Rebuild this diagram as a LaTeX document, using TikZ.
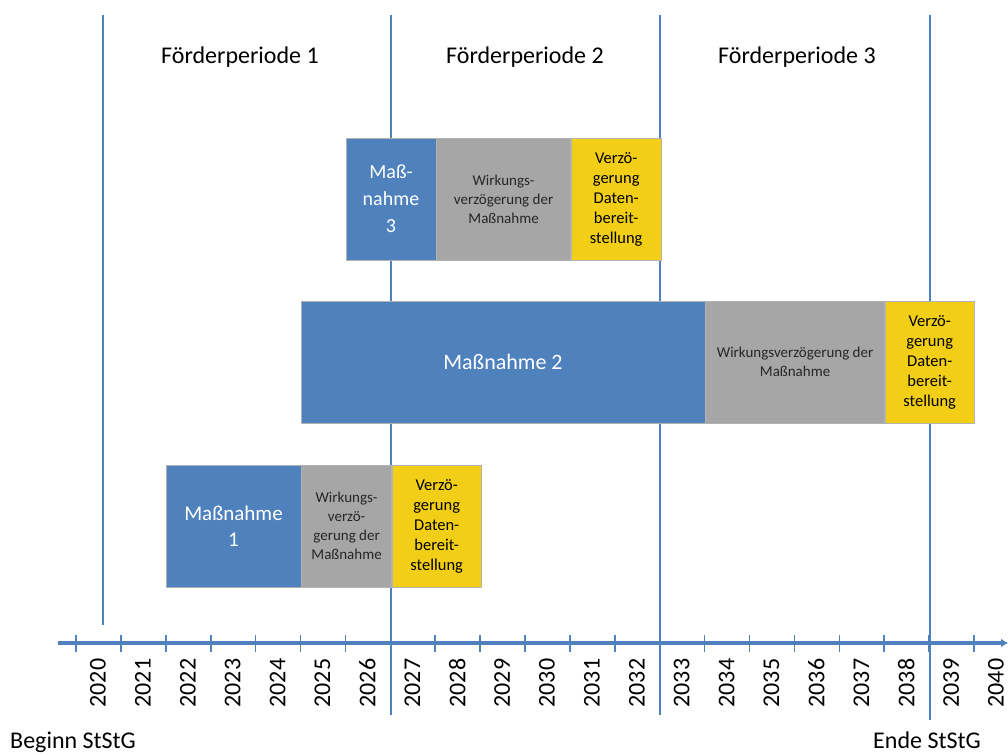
\documentclass[tikz,border=0pt]{standalone}
\usepackage{fontspec}
\setmainfont{Carlito}
\usetikzlibrary{arrows.meta,positioning}
\tikzset{>=latex}

\definecolor{planblue}{RGB}{79,129,189}
\definecolor{plangray}{RGB}{166,166,166}
\definecolor{planyellow}{RGB}{242,207,22}
\definecolor{plantext}{RGB}{38,38,38}

\tikzset{
	period/.style={draw=planblue, line width=1.2pt},
	phase/.style={draw=gray!60, line width=0.6pt, minimum height=122pt, inner sep=0pt, align=center},
	measure/.style={phase, fill=planblue, text=white},
	delay/.style={phase, fill=plangray, text=plantext, font=\fontsize{15}{19}\selectfont},
	data/.style={phase, fill=planyellow, text=black, font=\fontsize{16.5}{20}\selectfont},
}

\begin{document}
\begin{tikzpicture}[x=1pt, y=-1pt]

	\useasboundingbox (0,0) rectangle (1008,754);

	% periods
	\draw[period] (103,15) -- (103,625);
	\draw[period] (391,15) -- (391,715);
	\draw[period] (660,15) -- (660,715);
	\draw[period] (930,15) -- (930,720);

	\node (period1) [font=\fontsize{24}{28}\selectfont] at (240,57) {Förderperiode 1};
	\node (period2) [font=\fontsize{24}{28}\selectfont] at (525,57) {Förderperiode 2};
	\node (period3) [font=\fontsize{24}{28}\selectfont] at (797,57) {Förderperiode 3};

	% Massnahme 3
	\node (measure3) [measure, minimum width=90pt, font=\fontsize{20}{27}\selectfont] at (391,199) {Maß-\\nahme\\3};
	\node (delay3) [delay, minimum width=134pt, right=0pt of measure3] {Wirkungs-\\verzögerung der\\Maßnahme};
	\node (data3) [data, minimum width=90pt, right=0pt of delay3] {Verzö-\\gerung\\Daten-\\bereit-\\stellung};

	% Massnahme 2
	\node (measure2) [measure, minimum width=404pt, font=\fontsize{22}{26}\selectfont] at (503,362) {Maßnahme 2};
	\node (delay2) [delay, minimum width=179pt, right=0pt of measure2] {Wirkungsverzögerung der\\Maßnahme};
	\node (data2) [data, minimum width=89pt, right=0pt of delay2] {Verzö-\\gerung\\Daten-\\bereit-\\stellung};

	% Massnahme 1
	\node (measure1) [measure, minimum width=135pt, font=\fontsize{21}{26}\selectfont] at (233.5,526) {Maßnahme\\1};
	\node (delay1) [delay, minimum width=90pt, right=0pt of measure1] {Wirkungs-\\verzö-\\gerung der\\Maßnahme};
	\node (data1) [data, minimum width=89pt, right=0pt of delay1] {Verzö-\\gerung\\Daten-\\bereit-\\stellung};

	% time axis
	\draw[draw=planblue, line width=3.5pt, -{Latex[length=7pt,width=9pt]}] (58,643) -- (1008,643);
	\foreach \k in {0,...,20}
		\draw[planblue, line width=1.6pt] (76+44.9*\k,635) -- ++(0,17);
	\foreach \k [evaluate=\k as \year using int(2020+\k)] in {0,...,20}
		\node (year\k) [rotate=90, inner sep=0pt, font=\fontsize{24}{28}\selectfont] at (98+44.9*\k,683) {\year};

	\node (begin) [anchor=base west, inner sep=0pt, font=\fontsize{24}{28}\selectfont] at (10,748) {Beginn StStG};
	\node (end) [anchor=base west, inner sep=0pt, font=\fontsize{24}{28}\selectfont] at (873,748) {Ende StStG};

\end{tikzpicture}
\end{document}
